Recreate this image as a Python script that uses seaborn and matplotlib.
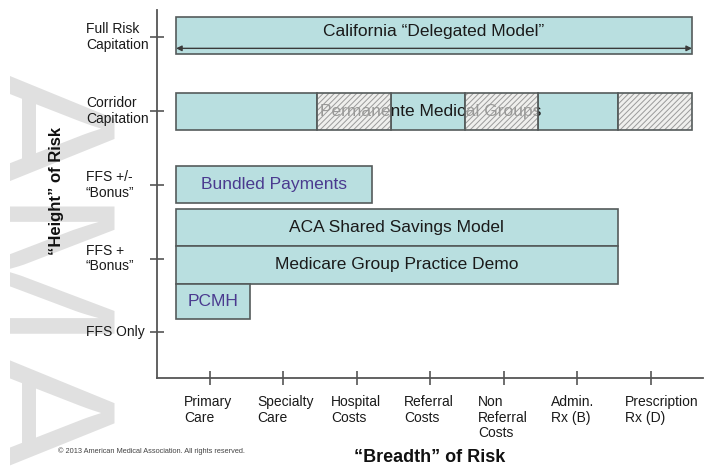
import matplotlib
matplotlib.use("Agg")
import matplotlib.pyplot as plt
import seaborn as sns
from matplotlib.transforms import Bbox, TransformedBbox, blended_transform_factory

sns.set_style("white")
plt.rcParams['font.family'] = ['Liberation Sans', 'DejaVu Sans']
plt.rcParams['hatch.linewidth'] = 0.7

# ---------------- data ----------------
y_levels = ["FFS Only", "FFS +\n\u201cBonus\u201d", "FFS +/-\n\u201cBonus\u201d",
            "Corridor\nCapitation", "Full Risk\nCapitation"]
x_categories = ["Primary\nCare", "Specialty\nCare", "Hospital\nCosts", "Referral\nCosts",
                "Non\nReferral\nCosts", "Admin.\nRx (B)", "Prescription\nRx (D)"]

programs = ["California \u201cDelegated Model\u201d", "Bundled Payments",
            "ACA Shared Savings Model", "Medicare Group Practice Demo", "PCMH"]
prog_start = [-0.46, -0.46, -0.46, -0.46, -0.46]
prog_end = [6.56, 2.20, 5.55, 5.55, 0.54]
prog_bottom = [3.77, 1.75, 1.17, 0.66, 0.18]
prog_top = [4.27, 2.25, 1.67, 1.17, 0.66]
prog_text_color = ["#1a1a1a", "#4a3a8f", "#1a1a1a", "#1a1a1a", "#4a3a8f"]

corridor_label = "Permanente Medical Groups"
corridor_edges = [-0.46, 1.46, 2.46, 3.47, 4.46, 5.55, 6.56]
corridor_hatched = [False, True, False, True, False, True]
corridor_bottom = 2.74
corridor_top = 3.24

# ---------------- figure ----------------
W, H = 715, 473
fig = plt.figure(figsize=(W / 100, H / 100), dpi=100)
fig.patch.set_facecolor("white")

# watermark (background)
wm = fig.text(-56 / W, 1 - 270 / H, "AMA", rotation=270, fontsize=137,
              color="#e0e0e0", ha="left", va="center", zorder=-5)
wm.set_clip_box(TransformedBbox(Bbox.from_extents(10 / W, 0, 1, 1), fig.transFigure))
wm.set_clip_on(True)

ax = fig.add_axes([157 / W, 95 / H, 546 / W, 368 / H])
ax.set_facecolor("none")
ax.set_xlim(-0.72, 6.71)
ax.set_ylim(-0.62, 4.37)

fill = "#b9dfe0"
edge = "#555b5b"

# program bars
for name, s, e, b, t, tc in zip(programs, prog_start, prog_end, prog_bottom, prog_top, prog_text_color):
    ax.barh(b, e - s, height=t - b, left=s, align="edge", color=fill,
            edgecolor=edge, linewidth=1.2, zorder=2)
    yc = (b + t) / 2
    if name.startswith("California"):
        yc = b + (t - b) * 0.62
    ax.text((s + e) / 2, yc, name, ha="center", va="center", fontsize=12.5,
            color=tc, zorder=3)

# arrow in the California bar
ax.annotate("", xy=(6.56, 3.85), xytext=(-0.46, 3.85),
            arrowprops=dict(arrowstyle="<|-|>", color="#3a3a3a", lw=1.0,
                            mutation_scale=8, shrinkA=0, shrinkB=0), zorder=4)

# corridor capitation segments
lefts = corridor_edges[:-1]
widths = [r - l for l, r in zip(corridor_edges[:-1], corridor_edges[1:])]
for l, w, h in zip(lefts, widths, corridor_hatched):
    if not h:
        ax.barh(corridor_bottom, w, height=corridor_top - corridor_bottom, left=l,
                align="edge", color=fill, edgecolor=edge, linewidth=1.2, zorder=2)
ax.text(3.0, (corridor_bottom + corridor_top) / 2, corridor_label, ha="center",
        va="center", fontsize=12.5, color="#1a1a1a", zorder=3)
for l, w, h in zip(lefts, widths, corridor_hatched):
    if h:
        ax.barh(corridor_bottom, w, height=corridor_top - corridor_bottom, left=l,
                align="edge", facecolor=(0.9, 0.9, 0.89, 0.62), edgecolor="#9a9a9a",
                hatch="//////", linewidth=0, zorder=4)
        ax.barh(corridor_bottom, w, height=corridor_top - corridor_bottom, left=l,
                align="edge", facecolor="none", edgecolor=edge, linewidth=1.2, zorder=5)

# axes styling
sns.despine(ax=ax)
for sp in ("left", "bottom"):
    ax.spines[sp].set_color("#555555")
    ax.spines[sp].set_linewidth(1.3)
ax.set_xticks(range(len(x_categories)))
ax.set_yticks(range(len(y_levels)))
ax.set_xticklabels([])
ax.set_yticklabels([])
ax.tick_params(direction="inout", length=10, width=1.2, color="#555555",
               bottom=True, left=True)

ytr = blended_transform_factory(ax.transAxes, ax.transData)
for i, lab in enumerate(y_levels):
    ax.text(-71 / 546, i, lab, transform=ytr, ha="left", va="center",
            fontsize=10, color="#1a1a1a", linespacing=1.15)

xtr = blended_transform_factory(ax.transData, ax.transAxes)
for i, lab in enumerate(x_categories):
    ax.text(i - 0.355, -17 / 368, lab, transform=xtr, ha="left", va="top",
            fontsize=10, color="#1a1a1a", linespacing=1.15)

fig.text(56 / W, 1 - 191 / H, "\u201cHeight\u201d of Risk", rotation=90, ha="center",
         va="center", fontsize=12, fontweight="bold", color="#111111")
fig.text(430 / W, 1 - 457 / H, "\u201cBreadth\u201d of Risk", ha="center",
         va="center", fontsize=13, fontweight="bold", color="#111111")
fig.text(58 / W, 1 - 451 / H,
         "\u00a9 2013 American Medical Association. All rights reserved.",
         ha="left", va="center", fontsize=5.3, color="#444444")

fig.savefig("out.png", dpi=100, facecolor="white")
